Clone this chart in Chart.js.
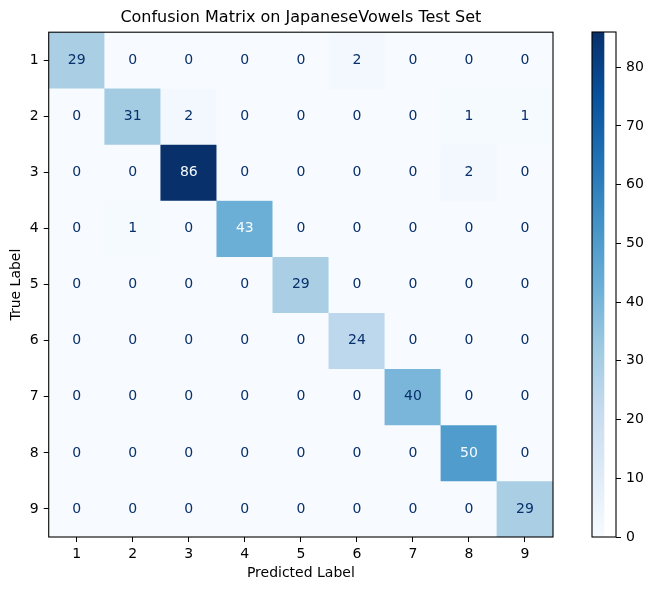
<!DOCTYPE html>
<html>
<head>
<meta charset="utf-8">
<script src="https://cdn.jsdelivr.net/npm/chart.js@4.4.1/dist/chart.umd.min.js"></script>
<style>
  body { margin: 0; background: #fff; }
  #wrap { position: relative; width: 653px; height: 590px; }
  canvas { position: absolute; top: 0; }
</style>
</head>
<body>
<div id="wrap">
  <canvas id="matrix" width="653" height="590" style="left:0"></canvas>
  <canvas id="colorbar" width="73" height="590" style="left:580px"></canvas>
</div>
<script>
// class labels
const labels = ['1', '2', '3', '4', '5', '6', '7', '8', '9'];

// one array per true label (rows), columns = predicted label
const row1 = [29, 0, 0, 0, 0, 2, 0, 0, 0];
const row2 = [0, 31, 2, 0, 0, 0, 0, 1, 1];
const row3 = [0, 0, 86, 0, 0, 0, 0, 2, 0];
const row4 = [0, 1, 0, 43, 0, 0, 0, 0, 0];
const row5 = [0, 0, 0, 0, 29, 0, 0, 0, 0];
const row6 = [0, 0, 0, 0, 0, 24, 0, 0, 0];
const row7 = [0, 0, 0, 0, 0, 0, 40, 0, 0];
const row8 = [0, 0, 0, 0, 0, 0, 0, 50, 0];
const row9 = [0, 0, 0, 0, 0, 0, 0, 0, 29];
const rows = [row1, row2, row3, row4, row5, row6, row7, row8, row9];

const colorbarTicks = [0, 10, 20, 30, 40, 50, 60, 70, 80];

const vmin = 0;
const vmax = Math.max(...rows.flat());
const thresh = (vmax + vmin) / 2;

const FONT = 'DejaVu Sans';

// matplotlib "Blues"
const blues = ['#f7fbff', '#deebf7', '#c6dbef', '#9ecae1', '#6baed6', '#4292c6', '#2171b5', '#08519c', '#08306b'];

function hexToRgb(h) {
    return [parseInt(h.slice(1, 3), 16), parseInt(h.slice(3, 5), 16), parseInt(h.slice(5, 7), 16)];
}

function bluesColor(v) {
    let t = (v - vmin) / (vmax - vmin);
    t = Math.min(1, Math.max(0, t));
    const pos = t * (blues.length - 1);
    const i = Math.min(Math.floor(pos), blues.length - 2);
    const f = pos - i;
    const a = hexToRgb(blues[i]);
    const b = hexToRgb(blues[i + 1]);
    const c = a.map((x, k) => Math.round(x + (b[k] - x) * f));
    return 'rgb(' + c.join(',') + ')';
}

const frame = {
    id: 'frame',
    afterDraw(chart) {
        const { ctx, chartArea: a } = chart;
        ctx.save();
        ctx.strokeStyle = '#000';
        ctx.lineWidth = 1.1;
        ctx.strokeRect(a.left, a.top, a.right - a.left, a.bottom - a.top);
        ctx.restore();
    }
};

const cellText = {
    id: 'cellText',
    afterDatasetsDraw(chart) {
        const ctx = chart.ctx;
        ctx.save();
        ctx.font = '14px ' + FONT;
        ctx.textAlign = 'center';
        ctx.textBaseline = 'middle';
        chart.data.datasets.forEach((ds, r) => {
            const meta = chart.getDatasetMeta(r);
            meta.data.forEach((bar, c) => {
                const v = rows[r][c];
                const p = bar.getCenterPoint();
                ctx.fillStyle = v < thresh ? '#08306b' : '#f7fbff';
                ctx.fillText(String(v), p.x, p.y);
            });
        });
        ctx.restore();
    }
};

// paint the colorbar bar with the gradient once the area is known
const gradientFill = {
    id: 'gradientFill',
    beforeDatasetsDraw(chart) {
        const { ctx, chartArea: a } = chart;
        const g = ctx.createLinearGradient(0, a.bottom, 0, a.top);
        blues.forEach((c, i) => g.addColorStop(i / (blues.length - 1), c));
        chart.getDatasetMeta(0).data.forEach(bar => {
            bar.options.backgroundColor = g;
        });
    }
};

const datasets = rows.map((r, i) => ({
    label: labels[i],
    data: r.map(() => 1),
    backgroundColor: r.map(v => bluesColor(v)),
    borderWidth: 0,
    categoryPercentage: 1,
    barPercentage: 1
}));

new Chart(document.getElementById('matrix'), {
    type: 'bar',
    data: { labels: labels, datasets: datasets },
    options: {
        responsive: false,
        animation: false,
        layout: { padding: { left: 0, right: 100, top: 0, bottom: 0 } },
        plugins: {
            legend: { display: false },
            tooltip: { enabled: false },
            title: {
                display: true,
                fullSize: false,
                text: 'Confusion Matrix on JapaneseVowels Test Set',
                color: '#000',
                font: { family: FONT, size: 16, weight: 'normal' },
                padding: { top: 8, bottom: 5 }
            }
        },
        scales: {
            x: {
                stacked: true,
                offset: true,
                grid: { offset: false, drawOnChartArea: false, color: '#000', tickLength: 5, tickWidth: 1 },
                border: { display: false },
                ticks: { color: '#000', font: { family: FONT, size: 14 }, padding: 4, maxRotation: 0 },
                title: {
                    display: true,
                    text: 'Predicted Label',
                    color: '#000',
                    font: { family: FONT, size: 14 },
                    padding: { top: 2, bottom: 8 }
                },
                afterFit(scale) { scale.height = 53; }
            },
            y: {
                stacked: true,
                min: 0,
                max: 9,
                reverse: true,
                grid: { drawOnChartArea: false, color: '#000', tickLength: 5, tickWidth: 1 },
                border: { display: false },
                afterBuildTicks(scale) {
                    scale.ticks = labels.map((l, i) => ({ value: i + 0.5 }));
                },
                ticks: {
                    color: '#000',
                    font: { family: FONT, size: 14 },
                    padding: 5,
                    callback: v => labels[Math.round(v - 0.5)]
                },
                title: {
                    display: true,
                    text: 'True Label',
                    color: '#000',
                    font: { family: FONT, size: 14 },
                    padding: { top: 8, bottom: 0 }
                }
            }
        }
    },
    plugins: [cellText, frame]
});

// colorbar
new Chart(document.getElementById('colorbar'), {
    type: 'bar',
    data: {
        labels: [''],
        datasets: [{
            data: [[vmin, vmax]],
            borderWidth: 0,
            categoryPercentage: 1,
            barPercentage: 1,
            backgroundColor: blues[4]
        }]
    },
    options: {
        responsive: false,
        animation: false,
        layout: { padding: { left: 12, right: 0, top: 32, bottom: 53 } },
        plugins: { legend: { display: false }, tooltip: { enabled: false } },
        scales: {
            x: { display: false, offset: false },
            y: {
                position: 'right',
                min: vmin,
                max: vmax,
                grid: { drawOnChartArea: false, color: '#000', tickLength: 5, tickWidth: 1 },
                border: { display: false },
                afterBuildTicks(scale) {
                    scale.ticks = colorbarTicks.map(v => ({ value: v }));
                },
                ticks: { color: '#000', font: { family: FONT, size: 14 }, padding: 5 },
                afterFit(scale) { scale.width = 37; }
            }
        }
    },
    plugins: [gradientFill, frame]
});
</script>
</body>
</html>
